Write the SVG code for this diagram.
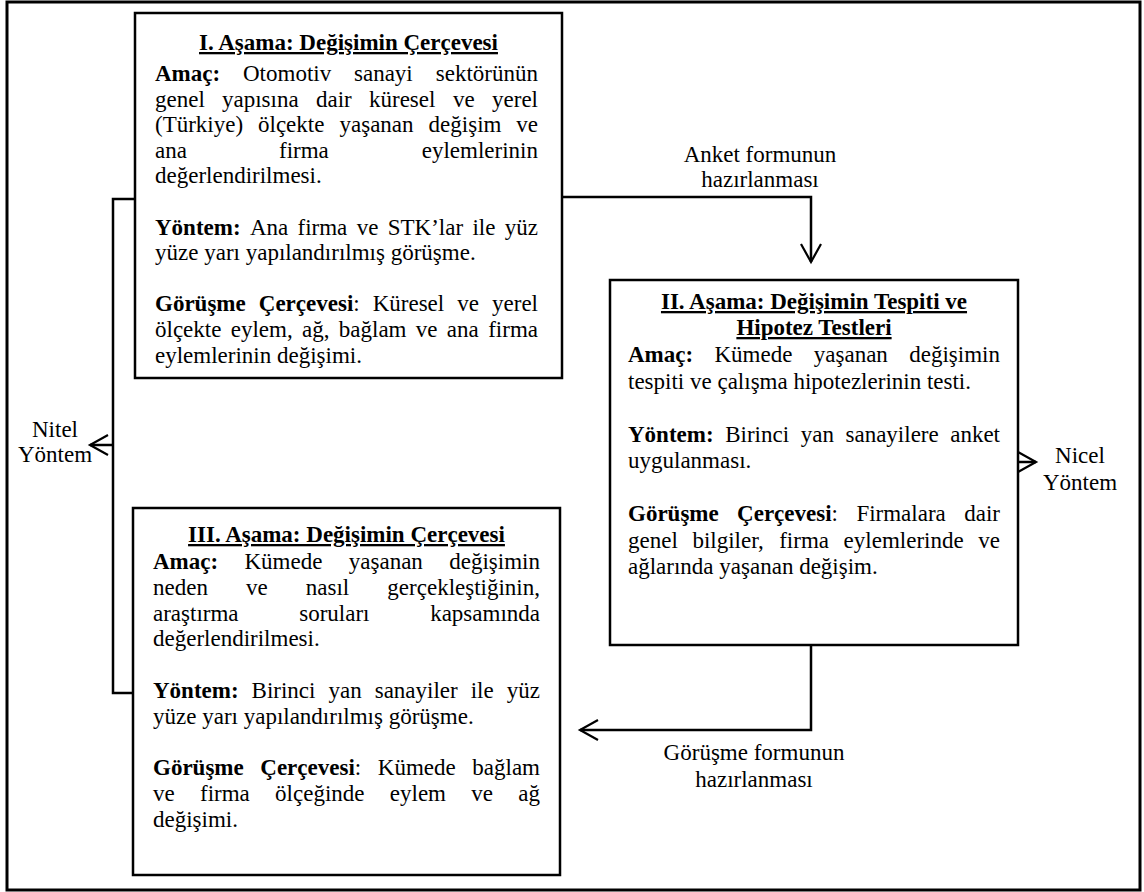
<svg xmlns="http://www.w3.org/2000/svg" width="1144" height="892" viewBox="0 0 1144 892">
  <style>
    text { font-family: "Liberation Serif", "Times New Roman", serif; font-size: 23px; fill: #000; }
    .b { font-weight: bold; }
    .t { font-weight: bold; text-decoration: underline; text-anchor: middle; }
    .r { text-anchor: end; }
    .c { text-anchor: middle; }
    .box { fill: #fff; stroke: #000; stroke-width: 2.5; }
    .ln { fill: none; stroke: #000; stroke-width: 2.5; }
    .frame { fill: #fff; stroke: #000; stroke-width: 3; }
  </style>
  <defs>
    <marker id="ah" markerUnits="userSpaceOnUse" markerWidth="24" markerHeight="24" refX="20" refY="11" orient="auto">
      <path d="M2,1 L20,11 L2,21" fill="none" stroke="#000" stroke-width="2.2"/>
    </marker>
  </defs>

  <!-- page frame -->
  <rect class="frame" x="7" y="2" width="1133" height="888"/>

  <!-- connectors and their labels -->
  <g id="connectors">
    <path class="ln" d="M562,197 H811 V262" marker-end="url(#ah)"/>
    <path class="ln" d="M811,645 V730 H580" marker-end="url(#ah)"/>
    <path class="ln" d="M134,199 H113 V693 H133"/>
    <path class="ln" d="M113,445 H90" marker-end="url(#ah)"/>
    <path class="ln" d="M1018,462 H1036" marker-end="url(#ah)"/>
    <text class="c" x="760" y="162">Anket formunun</text>
    <text class="c" x="760" y="187">hazırlanması</text>
    <text class="c" x="754" y="760">Görüşme formunun</text>
    <text class="c" x="754" y="787">hazırlanması</text>
    <text class="c" x="55" y="437">Nitel</text>
    <text class="c" x="55" y="462">Yöntem</text>
    <text class="c" x="1080" y="463">Nicel</text>
    <text class="c" x="1080" y="490">Yöntem</text>
  </g>

  <!-- Stage I -->
  <g id="stage1">
    <rect class="box" x="135" y="13" width="427" height="365"/>
    <text class="t" x="348.5" y="50">I. Aşama: Değişimin Çerçevesi</text>
    <text y="81"><tspan class="b" x="155">Amaç:</tspan><tspan x="243">Otomotiv</tspan><tspan x="354">sanayi</tspan></text>
    <text class="r" x="538" y="81">sektörünün</text>
    <text y="106.6"><tspan x="155">genel</tspan><tspan x="222">yapısına</tspan><tspan x="316">dair</tspan><tspan x="369">küresel</tspan><tspan x="453">ve</tspan></text>
    <text class="r" x="538" y="106.6">yerel</text>
    <text y="132.2"><tspan x="155">(Türkiye)</tspan><tspan x="258">ölçekte</tspan><tspan x="339.5">yaşanan</tspan><tspan x="428.6">değişim</tspan></text>
    <text class="r" x="538" y="132.2">ve</text>
    <text y="157.8"><tspan x="155">ana</tspan><tspan x="279">firma</tspan></text>
    <text class="r" x="538" y="157.8">eylemlerinin</text>
    <text x="155" y="183.4">değerlendirilmesi.</text>
    <text y="234.6"><tspan class="b" x="155">Yöntem:</tspan><tspan x="250">Ana</tspan><tspan x="297.5">firma</tspan><tspan x="356.7">ve</tspan><tspan x="387.7">STK’lar</tspan><tspan x="472.4">ile</tspan></text>
    <text class="r" x="538" y="234.6">yüz</text>
    <text x="155" y="260.2">yüze yarı yapılandırılmış görüşme.</text>
    <text y="311.4"><tspan class="b" x="155">Görüşme</tspan><tspan class="b" x="258.8">Çerçevesi</tspan><tspan>:</tspan><tspan x="372.7">Küresel</tspan><tspan x="457.3">ve</tspan></text>
    <text class="r" x="538" y="311.4">yerel</text>
    <text y="337"><tspan x="155">ölçekte</tspan><tspan x="230.7">eylem,</tspan><tspan x="302">ağ,</tspan><tspan x="338.8">bağlam</tspan><tspan x="415.8">ve</tspan><tspan x="446.8">ana</tspan></text>
    <text class="r" x="538" y="337">firma</text>
    <text x="155" y="362.6">eylemlerinin değişimi.</text>
  </g>

  <!-- Stage II -->
  <g id="stage2">
    <rect class="box" x="610" y="280" width="408" height="365"/>
    <text class="t" x="814" y="309">II. Aşama: Değişimin Tespiti ve</text>
    <text class="t" x="814" y="335">Hipotez Testleri</text>
    <text y="362"><tspan class="b" x="628">Amaç:</tspan><tspan x="714.5">Kümede</tspan><tspan x="813.8">yaşanan</tspan></text>
    <text class="r" x="1000" y="362">değişimin</text>
    <text x="628" y="388.5">tespiti ve çalışma hipotezlerinin testi.</text>
    <text y="441.5"><tspan class="b" x="628">Yöntem:</tspan><tspan x="725.2">Birinci</tspan><tspan x="800.7">yan</tspan><tspan x="845.5">sanayilere</tspan></text>
    <text class="r" x="1000" y="441.5">anket</text>
    <text x="628" y="468">uygulanması.</text>
    <text y="521"><tspan class="b" x="628">Görüşme</tspan><tspan class="b" x="737.1">Çerçevesi</tspan><tspan>:</tspan><tspan x="856.4">Firmalara</tspan></text>
    <text class="r" x="1000" y="521">dair</text>
    <text y="547.5"><tspan x="628">genel</tspan><tspan x="692.4">bilgiler,</tspan><tspan x="779.2">firma</tspan><tspan x="843.6">eylemlerinde</tspan></text>
    <text class="r" x="1000" y="547.5">ve</text>
    <text x="628" y="574">ağlarında yaşanan değişim.</text>
  </g>

  <!-- Stage III -->
  <g id="stage3">
    <rect class="box" x="133" y="508" width="427" height="367"/>
    <text class="t" x="346.5" y="542">III. Aşama: Değişimin Çerçevesi</text>
    <text y="569"><tspan class="b" x="153">Amaç:</tspan><tspan x="244.5">Kümede</tspan><tspan x="348.8">yaşanan</tspan></text>
    <text class="r" x="540" y="569">değişimin</text>
    <text y="594.8"><tspan x="153">neden</tspan><tspan x="246">ve</tspan><tspan x="305.8">nasıl</tspan></text>
    <text class="r" x="540" y="594.8">gerçekleştiğinin,</text>
    <text y="620.6"><tspan x="153">araştırma</tspan><tspan x="299.2">soruları</tspan></text>
    <text class="r" x="540" y="620.6">kapsamında</text>
    <text x="153" y="646.4">değerlendirilmesi.</text>
    <text y="698"><tspan class="b" x="153">Yöntem:</tspan><tspan x="251.6">Birinci</tspan><tspan x="328.5">yan</tspan><tspan x="374.7">sanayiler</tspan><tspan x="470.7">ile</tspan></text>
    <text class="r" x="540" y="698">yüz</text>
    <text x="153" y="723.8">yüze yarı yapılandırılmış görüşme.</text>
    <text y="775.4"><tspan class="b" x="153">Görüşme</tspan><tspan class="b" x="260.3">Çerçevesi</tspan><tspan>:</tspan><tspan x="377.8">Kümede</tspan></text>
    <text class="r" x="540" y="775.4">bağlam</text>
    <text y="801.2"><tspan x="153">ve</tspan><tspan x="200">firma</tspan><tspan x="275.1">ölçeğinde</tspan><tspan x="389.8">eylem</tspan><tspan x="471.3">ve</tspan></text>
    <text class="r" x="540" y="801.2">ağ</text>
    <text x="153" y="827">değişimi.</text>
  </g>
</svg>
